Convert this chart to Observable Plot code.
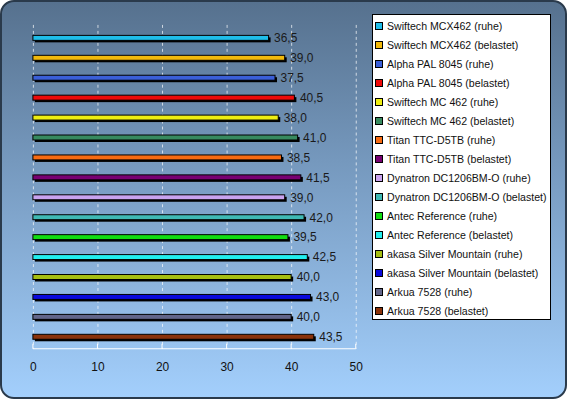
<!DOCTYPE html>
<html>
<head>
<meta charset="utf-8">
<script src="https://cdn.jsdelivr.net/npm/d3@7"></script>
<script src="https://cdn.jsdelivr.net/npm/@observablehq/plot@0.6"></script>
<style>
  html, body { margin: 0; padding: 0; background: #ffffff; }
  #wrap {
    position: relative; width: 567px; height: 399px; box-sizing: border-box;
    border: 2px solid #2a3a4b; border-radius: 14px; overflow: hidden;
    background: linear-gradient(to bottom, #56718e 0%, #7598bd 40%, #a3cffc 100%);
    font-family: "Liberation Sans", Arial, sans-serif;
  }
  #chart { position: absolute; left: -2px; top: -2px; }
  #legend {
    position: absolute; left: 370px; top: 12px; width: 179px; height: 306px;
    box-sizing: border-box; background: #ffffff; border: 1px solid #000;
    padding-top: 1px;
  }
  .item { height: 19px; display: flex; align-items: center; font-size: 10.6px; color: #111; white-space: nowrap; }
  .sw { width: 6px; height: 6px; border: 1px solid #000; margin-left: 2px; margin-right: 4px; flex: none; }
</style>
</head>
<body>
<div id="wrap"><div id="chart"></div><div id="legend"></div></div>
<script>
const names = [
  "Swiftech MCX462 (ruhe)", "Swiftech MCX462 (belastet)",
  "Alpha PAL 8045 (ruhe)", "Alpha PAL 8045 (belastet)",
  "Swiftech MC 462 (ruhe)", "Swiftech MC 462 (belastet)",
  "Titan TTC-D5TB (ruhe)", "Titan TTC-D5TB (belastet)",
  "Dynatron DC1206BM-O (ruhe)", "Dynatron DC1206BM-O (belastet)",
  "Antec Reference (ruhe)", "Antec Reference (belastet)",
  "akasa Silver Mountain (ruhe)", "akasa Silver Mountain (belastet)",
  "Arkua 7528 (ruhe)", "Arkua 7528 (belastet)"
];
const values = [36.5, 39.0, 37.5, 40.5, 38.0, 41.0, 38.5, 41.5, 39.0, 42.0, 39.5, 42.5, 40.0, 43.0, 40.0, 43.5];
const colors = [
  "#1fbde9", "#f2b90a", "#3a5fd8", "#ee0a0a", "#eeee12", "#378a5f", "#f86b12", "#780072",
  "#c9a3ef", "#3fb9b4", "#12dd12", "#22eeee", "#a6be12", "#0a0adc", "#62668a", "#8a320a"
];
const xTicks = [0, 10, 20, 30, 40, 50];

const data = names.map((name, i) => ({name, value: values[i]}));
const fmt = v => d3.format(".1f")(v).replace(".", ",");

const axisLine = (index, scales, vals, dims) => {
  const g = d3.create("svg:g");
  const y0 = dims.height - dims.marginBottom;
  g.append("line")
    .attr("x1", scales.x(xTicks[0])).attr("x2", scales.x(xTicks[xTicks.length - 1]))
    .attr("y1", y0).attr("y2", y0).attr("stroke", "white").attr("stroke-width", 1);
  for (const t of xTicks) {
    g.append("line").attr("x1", scales.x(t)).attr("x2", scales.x(t))
      .attr("y1", y0 - 5).attr("y2", y0).attr("stroke", "white");
  }
  return g.node();
};

const chart = Plot.plot({
  width: 567,
  height: 399,
  marginLeft: 33,
  marginRight: 210,
  marginTop: 25,
  marginBottom: 49,
  style: {background: "transparent", fontFamily: "'Liberation Sans', Arial, sans-serif", fontSize: "12px", color: "#111", overflow: "visible"},
  x: {domain: [0, 50], ticks: xTicks, tickSize: 0, tickPadding: 13, tickFormat: d => d, label: null},
  y: {domain: names, padding: 0, axis: null},
  color: {domain: names, range: colors},
  marks: [
    Plot.ruleX(xTicks, {stroke: "white", strokeOpacity: 0.7, strokeDasharray: "3,3"}),
    axisLine,
    Plot.barX(data, {x: "value", y: "name", fill: "black", dx: 2, dy: 2, insetTop: 7.5, insetBottom: 7.5}),
    Plot.barX(data, {x: "value", y: "name", fill: "name", stroke: "black", strokeWidth: 1, insetTop: 7.5, insetBottom: 7.5}),
    Plot.text(data, {x: "value", y: "name", text: d => fmt(d.value), textAnchor: "start", dx: 5, fill: "#1a1a1a", fontSize: 12})
  ]
});
document.getElementById("chart").appendChild(chart);

const legend = d3.select("#legend");
names.forEach((n, i) => {
  const it = legend.append("div").attr("class", "item");
  it.append("div").attr("class", "sw").style("background", colors[i]);
  it.append("span").text(n);
});
</script>
</body>
</html>
